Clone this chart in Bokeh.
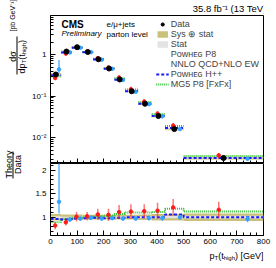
import math
from bokeh.plotting import figure
from bokeh.layouts import column, row
from bokeh.models import (Range1d, FixedTicker, SingleIntervalTicker, Label, Legend,
                          LegendItem, BoxAnnotation)
from bokeh.embed import file_html
from bokeh.resources import INLINE

# ---------------- data ----------------
bin_edges = [0, 40, 80, 120, 160, 200, 240, 280, 330, 380, 430, 500, 800]
data_xsec = [0.33, 1.18, 1.50, 1.15, 0.77, 0.46, 0.25, 0.13, 0.065, 0.033, 0.016, 0.0032]
sys_unc = [0.07, 0.06, 0.06, 0.05, 0.05, 0.05, 0.05, 0.05, 0.06, 0.07, 0.07, 0.08]
stat_unc = [0.02, 0.01, 0.01, 0.01, 0.01, 0.01, 0.015, 0.015, 0.02, 0.02, 0.025, 0.03]
powheg_p8_ratio = [0.82, 0.89, 1.01, 1.02, 1.06, 1.05, 1.11, 1.12, 1.13, 1.14, 1.21, 1.16]
powheg_p8_err = [0.08, 0.07, 0.10, 0.09, 0.12, 0.13, 0.15, 0.16, 0.15, 0.17, 0.18, 0.17]
nnlo_ratio = [1.33, 0.95, 0.97, 0.99, 0.97, 0.98, 0.97, 0.97, 0.98, 0.98, 1.00, 0.96]
nnlo_err_up = [0.90, 0.05, 0.04, 0.04, 0.04, 0.04, 0.04, 0.04, 0.05, 0.05, 0.05, 0.07]
nnlo_err_down = [0.25, 0.05, 0.04, 0.04, 0.04, 0.04, 0.04, 0.04, 0.05, 0.05, 0.05, 0.07]
powheg_hpp_ratio = [0.96, 0.95, 0.97, 0.98, 0.99, 0.98, 0.99, 1.00, 1.00, 1.00, 1.06, 1.00]
mg5_ratio = [0.89, 0.95, 0.99, 1.00, 1.02, 1.03, 1.07, 1.10, 1.10, 1.11, 1.18, 1.12]
x_tick_values = [0, 100, 200, 300, 400, 500, 600, 700, 800]
upper_y_ticks = [0.01, 0.1, 1]
upper_y_tick_labels = ["10⁻²", "10⁻¹", "1"]
ratio_y_ticks = [1, 1.5, 2]

# ---------------- derived ----------------
lefts = bin_edges[:-1]
rights = bin_edges[1:]
centers = [(a + b) / 2 for a, b in zip(lefts, rights)]
widths = [b - a for a, b in zip(lefts, rights)]
x_p8 = [c - 0.06 * w for c, w in zip(centers, widths)]
x_nnlo = [c + 0.3 * w for c, w in zip(centers, widths)]

FONT = "Liberation Sans"
KHAKI = "#c9c07c"
STATC = "#e3e3e3"
RED = "#ff1a1a"
LBLUE = "#33a3ff"
BLUE = "#1a1aff"
GREEN = "#33c233"

PW, PH = 276, 268
LW = 28                     # left label strip width
RW = PW - LW
FL, FR = 46, 263            # frame left / right (page px)
U_TOP, U_BOT = 15, 163
L_TOP, L_BOT = 163, 235
X_TOP = 248
LOG_TOP = 0.94
PX_DECADE = 41.5
R_TOP = 2.15
PX_UNIT = 46.7
LOG_BOT = LOG_TOP - (U_BOT - U_TOP) / PX_DECADE
R_BOT = R_TOP - (L_BOT - L_TOP) / PX_UNIT
ROT_SHIFT = 13              # observed downward offset of the left strip texts


def style_axes(p):
    for ax in p.axis:
        ax.axis_line_color = "black"
        ax.major_tick_line_color = "black"
        ax.minor_tick_line_color = "black"
        ax.major_tick_in = 5
        ax.major_tick_out = 0
        ax.minor_tick_in = 3
        ax.minor_tick_out = 0
        ax.major_label_text_font = FONT
        ax.major_label_text_font_size = "8px"
        ax.major_label_text_color = "black"
    p.grid.visible = False
    p.outline_line_color = "black"
    p.outline_line_alpha = 1
    p.background_fill_color = "white"
    p.border_fill_color = "white"


def strip(w, h, left=0, right=0, top=0, bottom=0):
    s = figure(width=w, height=h, x_range=Range1d(0, 1), y_range=Range1d(0, 1),
               x_axis_location=None, y_axis_location=None, output_backend="svg",
               toolbar_location=None, min_border=0, min_border_left=left,
               min_border_right=right, min_border_top=top, min_border_bottom=bottom)
    s.grid.visible = False
    s.outline_line_color = None
    s.background_fill_color = "white"
    s.border_fill_color = "white"
    return s


def lab(p, fleft, fbot, px, py, text, size, angle=0.0, align="left", style="normal"):
    # screen units: x from frame left, y up from frame bottom (page px given)
    p.add_layout(Label(x=px - fleft, y=fbot - py, x_units="screen", y_units="screen",
                       text=text, text_font=FONT, text_font_size=f"{size}px",
                       angle=angle, text_align=align, text_baseline="middle",
                       text_font_style=style, text_color="black"))


def frac_bar(p, fleft, fbot, px, py0, py1):
    p.add_layout(BoxAnnotation(left=px - 0.5 - fleft, right=px + 0.5 - fleft,
                               top=fbot - py0, bottom=fbot - py1,
                               left_units="screen", right_units="screen",
                               top_units="screen", bottom_units="screen",
                               fill_color="black", fill_alpha=1, line_alpha=0))


# ---------------- upper panel ----------------
p1 = figure(width=RW, height=U_BOT - U_TOP, x_range=Range1d(0, 800),
            y_range=Range1d(10 ** LOG_BOT, 10 ** LOG_TOP),
            y_axis_type="log", output_backend="svg", toolbar_location=None,
            min_border_left=FL - LW, min_border_right=PW - FR, min_border_top=0,
            min_border_bottom=0)

sys_lo = [d * (1 - u) for d, u in zip(data_xsec, sys_unc)]
sys_hi = [d * (1 + u) for d, u in zip(data_xsec, sys_unc)]
st_lo = [d * (1 - u) for d, u in zip(data_xsec, stat_unc)]
st_hi = [d * (1 + u) for d, u in zip(data_xsec, stat_unc)]
r_sys = p1.quad(left=lefts, right=rights, bottom=sys_lo, top=sys_hi,
                fill_color=KHAKI, line_color=None)
r_stat = p1.quad(left=lefts, right=rights, bottom=st_lo, top=st_hi,
                 fill_color=STATC, line_color=None)

mg5_abs = [d * r for d, r in zip(data_xsec, mg5_ratio)]
hpp_abs = [d * r for d, r in zip(data_xsec, powheg_hpp_ratio)]
r_mg5 = p1.segment(x0=lefts, x1=rights, y0=mg5_abs, y1=mg5_abs, line_color=GREEN,
                   line_width=2, line_dash="1 1")
r_hpp = p1.segment(x0=lefts, x1=rights, y0=hpp_abs, y1=hpp_abs, line_color=BLUE,
                   line_width=2, line_dash="3 2")

p8_abs = [d * r for d, r in zip(data_xsec, powheg_p8_ratio)]
p8_lo = [d * (r - e) for d, r, e in zip(data_xsec, powheg_p8_ratio, powheg_p8_err)]
p8_hi = [d * (r + e) for d, r, e in zip(data_xsec, powheg_p8_ratio, powheg_p8_err)]
p1.segment(x0=x_p8, x1=x_p8, y0=p8_lo, y1=p8_hi, line_color=RED, line_width=1.5, line_alpha=0.7)
p1.scatter(x=x_p8, y=p8_abs, size=3.5, marker="circle", color=RED)

nn_abs = [d * r for d, r in zip(data_xsec, nnlo_ratio)]
nn_lo = [d * (r - e) for d, r, e in zip(data_xsec, nnlo_ratio, nnlo_err_down)]
nn_hi = [d * (r + e) for d, r, e in zip(data_xsec, nnlo_ratio, nnlo_err_up)]
p1.segment(x0=x_nnlo, x1=x_nnlo, y0=nn_lo, y1=nn_hi, line_color=LBLUE, line_width=1.5, line_alpha=0.8)
p1.scatter(x=x_nnlo, y=nn_abs, size=3.5, marker="circle", color=LBLUE)

r_data = p1.scatter(x=centers, y=data_xsec, size=5, marker="circle", color="black")

l_p8_bar = p1.scatter(x=[], y=[], marker="dash", angle=math.pi / 2, size=8, line_color=RED, line_width=1.5)
l_p8_pt = p1.scatter(x=[], y=[], marker="circle", size=3, color=RED)
l_nn_bar = p1.scatter(x=[], y=[], marker="dash", angle=math.pi / 2, size=8, line_color=LBLUE, line_width=1.5)
l_nn_pt = p1.scatter(x=[], y=[], marker="circle", size=3, color=LBLUE)

legend = Legend(items=[
    LegendItem(label="Data", renderers=[r_data]),
    LegendItem(label="Sys ⊕ stat", renderers=[r_sys]),
    LegendItem(label="Stat", renderers=[r_stat]),
    LegendItem(label="Pᴏᴡʜᴇɢ P8", renderers=[l_p8_bar, l_p8_pt]),
    LegendItem(label="NNLO QCD+NLO EW", renderers=[l_nn_bar, l_nn_pt]),
    LegendItem(label="Pᴏᴡʜᴇɢ H++", renderers=[r_hpp]),
    LegendItem(label="MG5 P8 [FxFx]", renderers=[r_mg5]),
], location="top_right", margin=2, padding=2, spacing=0,
    glyph_width=13, glyph_height=8, label_height=8, label_standoff=2,
    label_text_font=FONT, label_text_font_size="9px", label_text_line_height=1.0,
    background_fill_alpha=0, border_line_alpha=0)
p1.add_layout(legend)

p1.xaxis.ticker = SingleIntervalTicker(interval=100, num_minor_ticks=4)
p1.yaxis.ticker = FixedTicker(ticks=upper_y_ticks,
                              minor_ticks=[k * 10.0 ** e for e in (-3, -2, -1, 0) for k in range(2, 10)])
p1.yaxis.major_label_overrides = {t: s for t, s in zip(upper_y_ticks, upper_y_tick_labels)}
style_axes(p1)
p1.yaxis.major_label_standoff = 4
p1.xaxis.major_label_text_font_size = "0px"
p1.xaxis.major_label_standoff = 0

lab(p1, FL, U_BOT, 57, 24, "CMS", 10, style="bold")
lab(p1, FL, U_BOT, 57, 33, "Preliminary", 8, style="italic")
lab(p1, FL, U_BOT, 102, 24, "e/μ+jets", 8)
lab(p1, FL, U_BOT, 102, 34, "parton level", 8)

# ---------------- ratio panel ----------------
p2 = figure(width=RW, height=X_TOP - L_TOP, x_range=p1.x_range, y_range=Range1d(R_BOT, R_TOP),
            output_backend="svg", toolbar_location=None,
            min_border_left=FL - LW, min_border_right=PW - FR, min_border_top=0,
            min_border_bottom=X_TOP - L_BOT)

p2.quad(left=lefts, right=rights, bottom=[1 - u for u in sys_unc], top=[1 + u for u in sys_unc],
        fill_color=KHAKI, line_color=None)
p2.quad(left=lefts, right=rights, bottom=[1 - u for u in stat_unc], top=[1 + u for u in stat_unc],
        fill_color=STATC, line_color=None)
p2.step(x=bin_edges, y=mg5_ratio + [mg5_ratio[-1]], mode="after", line_color=GREEN,
        line_width=2, line_dash="1 1")
p2.step(x=bin_edges, y=powheg_hpp_ratio + [powheg_hpp_ratio[-1]], mode="after", line_color=BLUE,
        line_width=2, line_dash="3 2")
p2.segment(x0=x_p8, x1=x_p8, y0=[r - e for r, e in zip(powheg_p8_ratio, powheg_p8_err)],
           y1=[r + e for r, e in zip(powheg_p8_ratio, powheg_p8_err)],
           line_color=RED, line_width=1.5, line_alpha=0.6)
p2.scatter(x=x_p8, y=powheg_p8_ratio, size=3.5, marker="circle", color=RED)
p2.segment(x0=x_nnlo, x1=x_nnlo, y0=[r - e for r, e in zip(nnlo_ratio, nnlo_err_down)],
           y1=[r + e for r, e in zip(nnlo_ratio, nnlo_err_up)],
           line_color=LBLUE, line_width=1.5, line_alpha=0.8)
p2.scatter(x=x_nnlo, y=nnlo_ratio, size=3.5, marker="circle", color=LBLUE)

p2.xaxis.ticker = FixedTicker(ticks=x_tick_values,
                              minor_ticks=[v for v in range(0, 801, 25) if v % 100])
p2.yaxis.ticker = FixedTicker(ticks=ratio_y_ticks,
                              minor_ticks=[round(0.7 + 0.1 * i, 2) for i in range(15)])
style_axes(p2)
p2.xaxis.major_label_standoff = 3
p2.yaxis.major_label_standoff = 4

# ---------------- text strips ----------------
# the column aligns these strips' frames with the panels' frames (page x = FL)
top_strip = strip(RW, U_TOP)
lab(top_strip, FL, U_TOP, 262, 8, "35.8 fb⁻¹ (13 TeV)", 9.5, align="right")

x_strip = strip(RW, PH - X_TOP)
xl_y = 255
x0 = 205
lab(x_strip, FL, PH, x0, xl_y, "p", 9)
lab(x_strip, FL, PH, x0 + 5, xl_y + 2.5, "T", 6)
lab(x_strip, FL, PH, x0 + 8.7, xl_y, "(t", 9)
lab(x_strip, FL, PH, x0 + 14.2, xl_y + 2.5, "high", 6)
lab(x_strip, FL, PH, x0 + 25.5, xl_y, ") [GeV]", 9)

A = math.pi / 2
S = ROT_SHIFT
left_strip = strip(LW, PH)
lab(left_strip, 0, PH, 12, 44 - S, "[pb GeV⁻¹]", 7, angle=A)
lab(left_strip, 0, PH, 12, 69 - S, "dσ", 9, angle=A, align="center")
frac_bar(left_strip, 0, PH, 16.5, 49 - S, 87 - S)
lab(left_strip, 0, PH, 21, 86 - S, "dp", 9, angle=A)
lab(left_strip, 0, PH, 23.5, 76 - S, "T", 6, angle=A)
lab(left_strip, 0, PH, 21, 72.3 - S, "(t", 9, angle=A)
lab(left_strip, 0, PH, 23.5, 66.8 - S, "high", 6, angle=A)
lab(left_strip, 0, PH, 21, 55.5 - S, ")", 9, angle=A)
lab(left_strip, 0, PH, 8, 177 - S, "Theory", 9, angle=A, align="center")
frac_bar(left_strip, 0, PH, 12.5, 164 - S, 191 - S)
lab(left_strip, 0, PH, 17, 177 - S, "Data", 9, angle=A, align="center")

layout = row(left_strip,
             column(top_strip, p1, p2, x_strip, spacing=0), spacing=0)
open("out.html", "w").write(file_html(layout, INLINE))
